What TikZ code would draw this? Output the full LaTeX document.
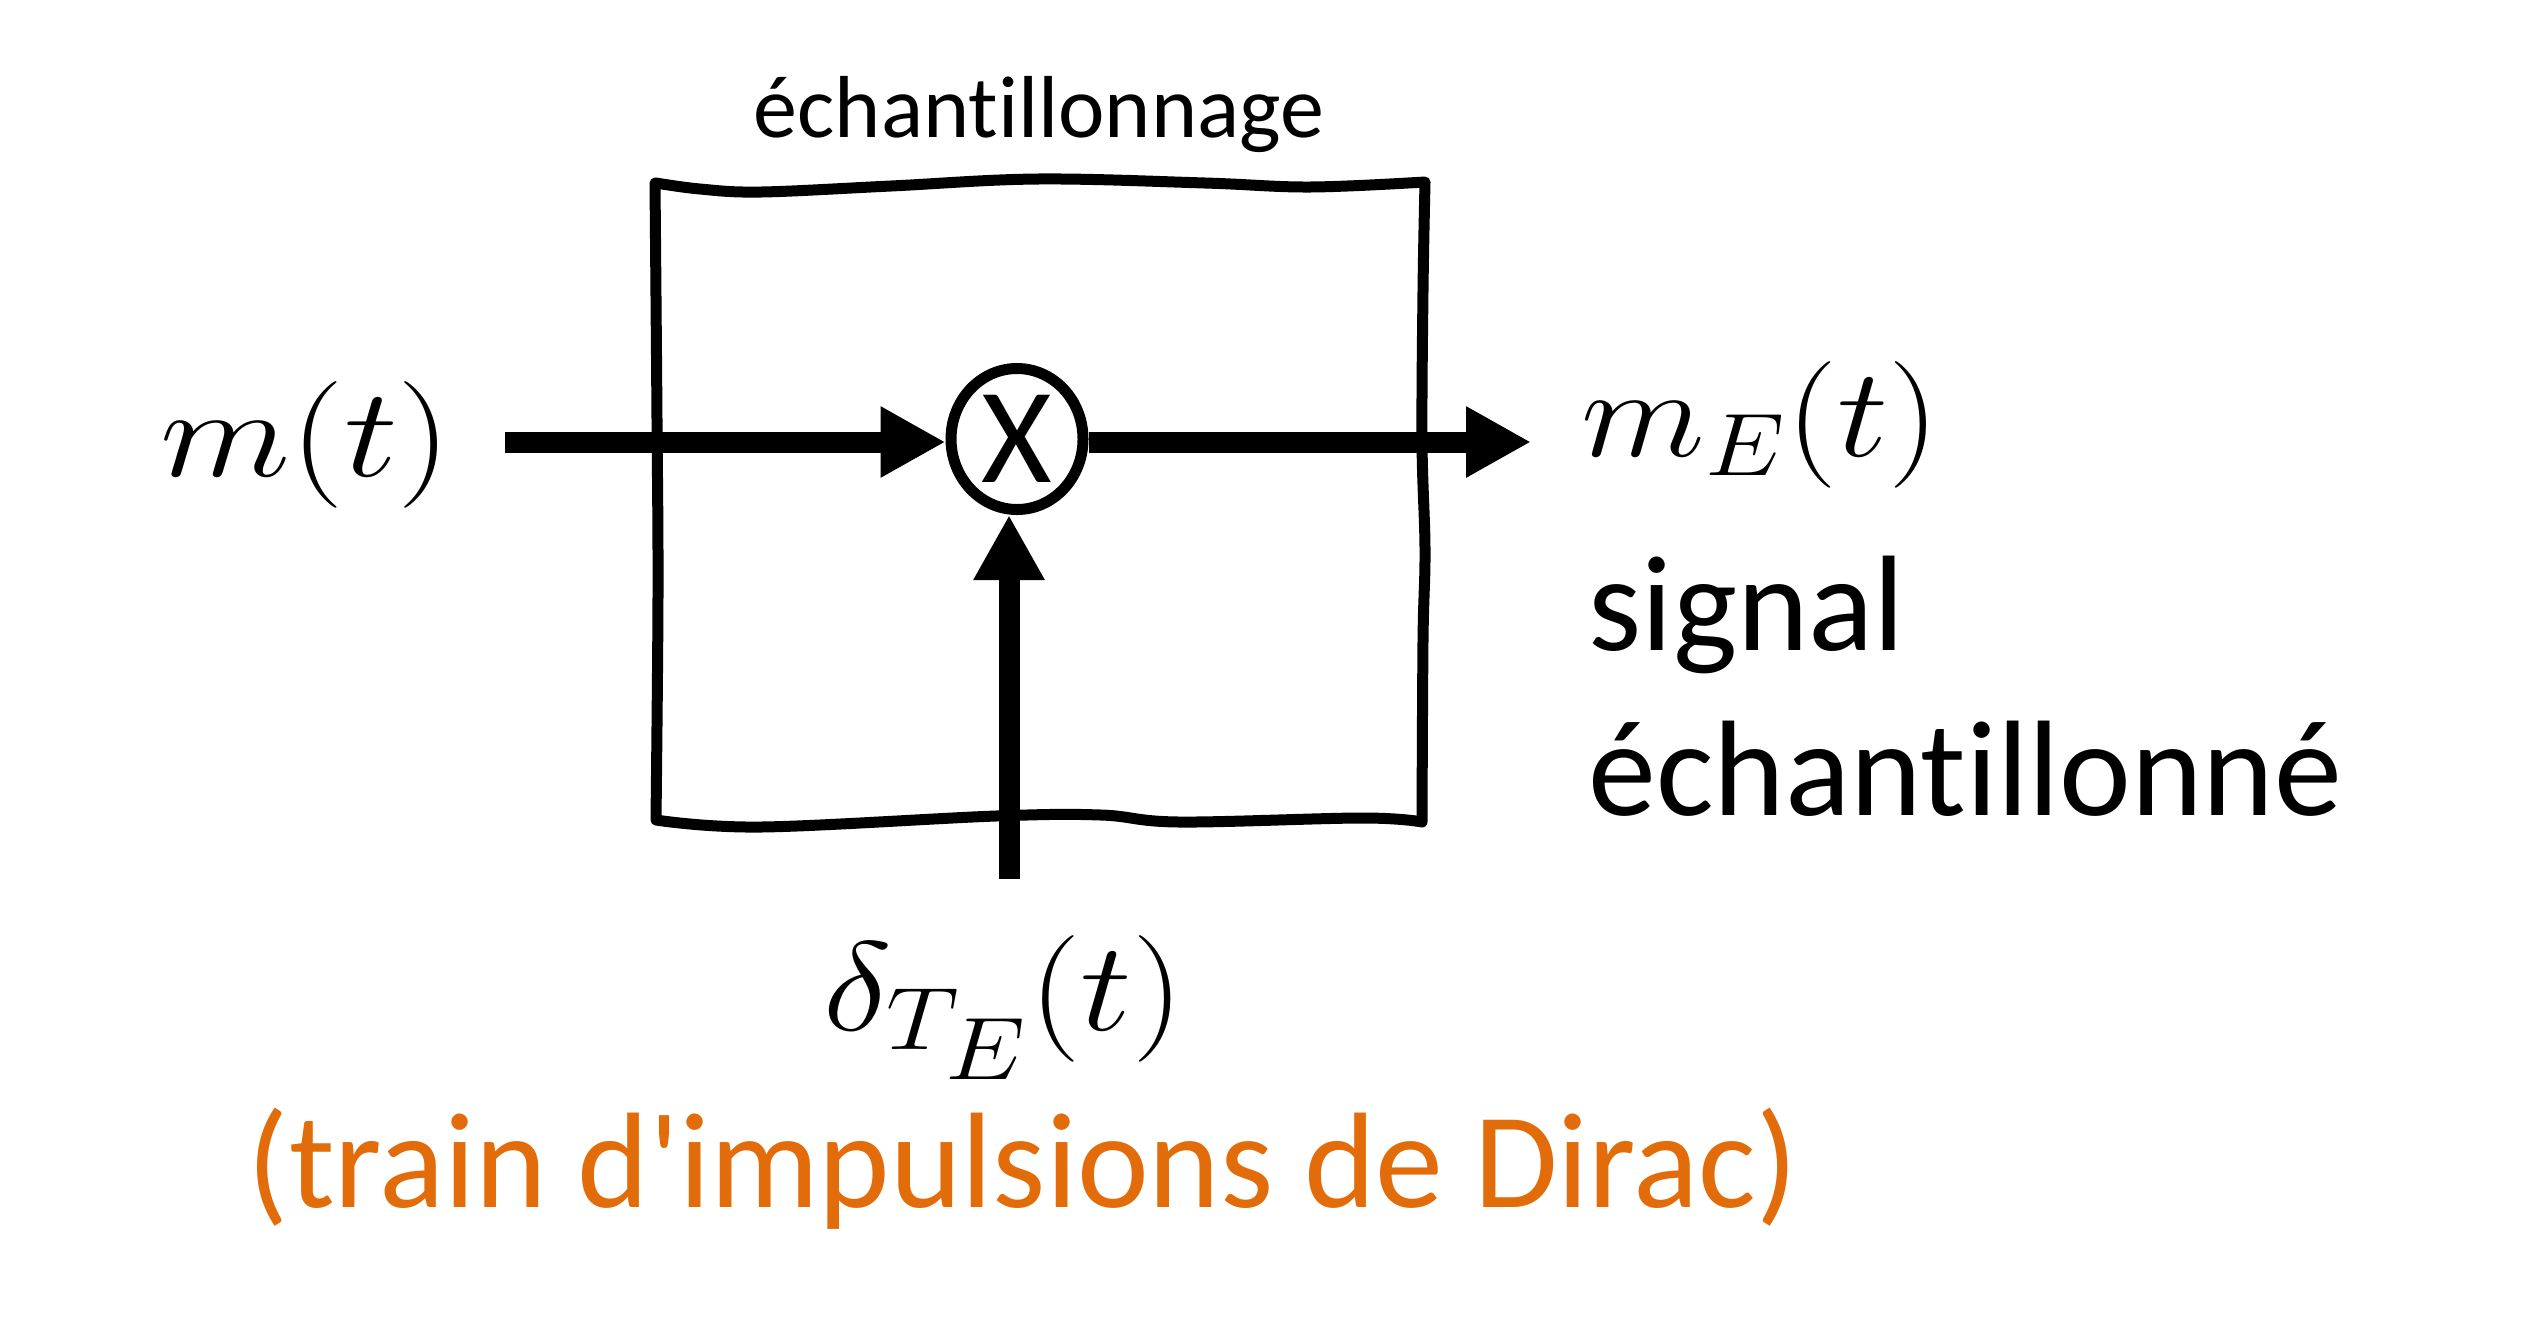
\RequirePackage{fix-cm}
\documentclass[tikz,border=0pt]{standalone}
\usepackage{fontspec}
\usepackage{graphicx}
\newfontfamily\calib{Carlito}[Ligatures={NoCommon}]
\usetikzlibrary{arrows.meta,shapes.geometric}
\definecolor{diracorange}{RGB}{227,108,10}
\begin{document}
\begin{tikzpicture}[x=0.3pt,y=-0.3pt,
  boxline/.style={line width=3.3pt, line join=round},
  sigarrow/.style={line width=6.3pt, -{Triangle[length=19.5pt,width=20pt]}},
  bigtext/.style={font=\calib\fontsize{40.8pt}{49.5pt}\selectfont, inner sep=0pt},
  smalltext/.style={font=\calib\fontsize{26.4pt}{30pt}\selectfont, inner sep=0pt},
  mathtext/.style={font=\fontsize{38pt}{40pt}\selectfont, inner sep=0pt},
  multnode/.style={draw, ellipse, line width=3.3pt, fill=white, minimum width=39.6pt, minimum height=42.3pt, inner sep=0pt}
]
\useasboundingbox (0,0) rectangle (2528,1334);

% hand-drawn box
\draw[boxline] plot[smooth, tension=0.6] coordinates {(656,183) (700,189) (761,192) (891,186) (1038,179) (1205,183) (1310,187) (1425,182)}
  -- plot[smooth, tension=0.6] coordinates {(1425,182) (1423,290) (1422,442) (1425,550) (1423,640) (1422,822)}
  -- plot[smooth, tension=0.6] coordinates {(1422,822) (1362,818) (1179,822) (1101,815) (996,816) (761,827) (656,820)}
  -- plot[smooth, tension=0.6] coordinates {(656,820) (658,594) (657,420) (655,183)}
  -- cycle;

\node[smalltext, anchor=base] (title) at (1039,137) {échantillonnage};

\node[multnode, bigtext] (mult) at (1017,439) {X};

\coordinate (inStart) at (505,442);
\coordinate (outEnd) at (1531,442);
\coordinate (dStart) at (1009,879);

\draw[sigarrow] (inStart) -- (inStart -| mult.west);
\draw[sigarrow] (mult.east |- outEnd) -- (outEnd);
\draw[sigarrow] (dStart) -- (dStart |- mult.south);

\node[mathtext, anchor=base] (min) at (306,476) {\scalebox{1.2}[1]{$m(t)$}};
\node[mathtext, anchor=base west] (mout) at (1581,456) {\scalebox{1.14}[1]{$m_E(t)$}};
\node[bigtext, anchor=base west] (sig1) at (1588,650) {signal};
\node[bigtext, anchor=base west] (sig2) at (1588,815) {échantillonné};
\node[mathtext, anchor=base west] (delta) at (823,1030) {\scalebox{1.15}[1]{$\delta_{T_{\scriptstyle E}}(t)$}};
\node[bigtext, anchor=base, text=diracorange] (dirac) at (1023,1207) {(train d'impulsions de Dirac)};
\end{tikzpicture}
\end{document}
